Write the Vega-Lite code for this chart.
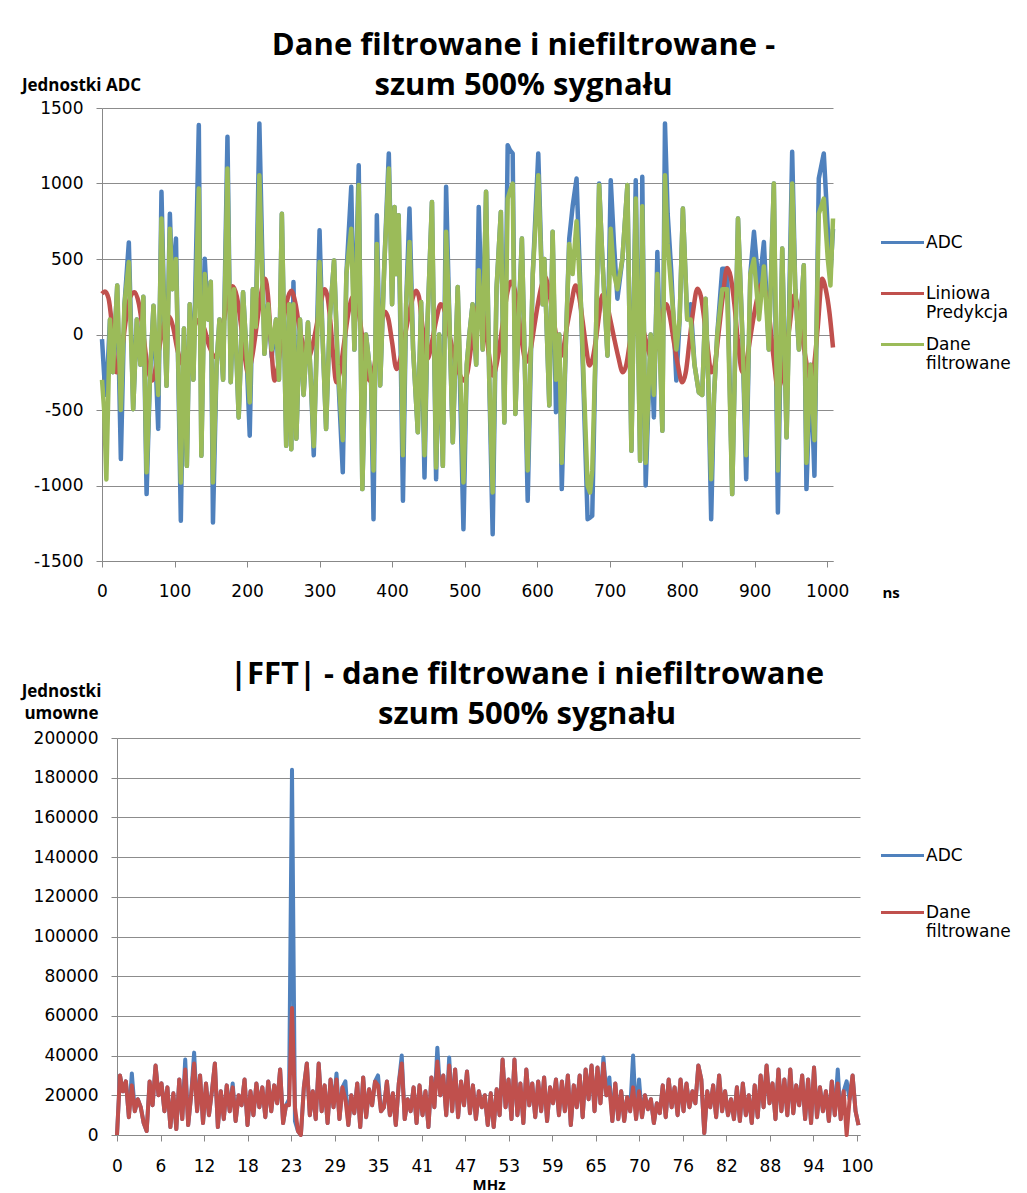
{
  "$schema": "https://vega.github.io/schema/vega-lite/v6.json",
  "padding": {"left": 21, "top": 30, "right": 4, "bottom": 1},
  "background": "#ffffff",
  "spacing": 59,
  "config": {
    "view": {"stroke": null},
    "font": "DejaVu Sans",
    "axis": {"labelFont": "DejaVu Sans", "labelFontSize": 17, "labelColor": "#000000", "domainColor": "#888888", "tickColor": "#888888", "gridColor": "#8c8c8c", "gridWidth": 1, "tickSize": 6, "labelPadding": 16, "titleColor": "#000000", "labelFlush": false},
    "legend": {"labelFont": "DejaVu Sans", "labelFontSize": 17, "labelColor": "#000000", "symbolType": "stroke", "symbolSize": 1850, "symbolStrokeWidth": 3, "padding": 0, "labelOffset": 0, "labelBaseline": "middle"}
  },
  "resolve": {"scale": {"color": "independent", "x": "independent", "y": "independent"}, "legend": {"color": "independent"}},
  "datasets": {
    "ts": [
      {"t":0,"a":-30,"f":-300},{"t":3,"a":-270,"f":-500},{"t":6,"a":-400,"f":-960},{"t":11,"a":100,"f":100},{"t":15,"a":-250,"f":-250},{"t":21,"a":325,"f":325},{"t":26,"a":-825,"f":-500},{"t":31,"a":200,"f":200},{"t":37,"a":610,"f":480},{"t":43,"a":-495,"f":-495},{"t":48,"a":100,"f":100},{"t":53,"a":-200,"f":-200},{"t":57,"a":250,"f":250},{"t":61.5,"a":-1057,"f":-913},{"t":66,"a":-300,"f":-300},{"t":71,"a":190,"f":190},{"t":77.5,"a":-625,"f":-400},{"t":82,"a":945,"f":768},{"t":86,"a":100,"f":100},{"t":89,"a":-340,"f":-340},{"t":93.6,"a":800,"f":700},{"t":97,"a":300,"f":300},{"t":102,"a":635,"f":500},{"t":108.7,"a":-1234,"f":-980},{"t":113,"a":40,"f":40},{"t":117,"a":-870,"f":-870},{"t":121,"a":200,"f":200},{"t":126,"a":-300,"f":-300},{"t":133.5,"a":1387,"f":967},{"t":137,"a":-803,"f":-803},{"t":141.7,"a":502,"f":400},{"t":146,"a":100,"f":100},{"t":150,"a":350,"f":350},{"t":153,"a":-1245,"f":-980},{"t":158,"a":-200,"f":-200},{"t":162,"a":100,"f":100},{"t":167,"a":-300,"f":-300},{"t":173,"a":1310,"f":1100},{"t":177.5,"a":-316,"f":-316},{"t":182,"a":300,"f":300},{"t":188.5,"a":-549,"f":-549},{"t":194.5,"a":280,"f":280},{"t":199,"a":-100,"f":-100},{"t":203.7,"a":-670,"f":-450},{"t":208,"a":300,"f":300},{"t":212,"a":50,"f":50},{"t":217,"a":1398,"f":1055},{"t":224,"a":-128,"f":-128},{"t":229,"a":200,"f":200},{"t":234,"a":-150,"f":-100},{"t":240,"a":100,"f":100},{"t":244,"a":-300,"f":-300},{"t":248,"a":800,"f":800},{"t":254,"a":-737,"f":-737},{"t":258,"a":200,"f":200},{"t":261,"a":-760,"f":-760},{"t":264,"a":347,"f":200},{"t":268,"a":-690,"f":-690},{"t":273,"a":100,"f":100},{"t":278,"a":-400,"f":-400},{"t":284,"a":80,"f":80},{"t":288,"a":-300,"f":-300},{"t":292,"a":-800,"f":-740},{"t":300,"a":690,"f":480},{"t":304,"a":0,"f":0},{"t":309,"a":-626,"f":-626},{"t":314,"a":100,"f":100},{"t":320,"a":490,"f":490},{"t":325,"a":-200,"f":-200},{"t":332,"a":-913,"f":-700},{"t":337,"a":400,"f":400},{"t":343.7,"a":978,"f":700},{"t":348,"a":-100,"f":-100},{"t":354,"a":1121,"f":990},{"t":359,"a":-1024,"f":-1024},{"t":364,"a":0,"f":0},{"t":371,"a":-300,"f":-300},{"t":374.4,"a":-1223,"f":-900},{"t":379,"a":790,"f":600},{"t":383.6,"a":-338,"f":-338},{"t":389.6,"a":500,"f":500},{"t":395.5,"a":1199,"f":1100},{"t":400,"a":200,"f":200},{"t":403.3,"a":845,"f":845},{"t":406,"a":400,"f":400},{"t":409,"a":790,"f":790},{"t":415,"a":-1101,"f":-800},{"t":419.4,"a":200,"f":200},{"t":424,"a":834,"f":613},{"t":429,"a":-100,"f":-100},{"t":435.5,"a":-648,"f":-648},{"t":440,"a":215,"f":215},{"t":444.7,"a":-947,"f":-800},{"t":449,"a":100,"f":100},{"t":455,"a":878,"f":878},{"t":460.7,"a":-958,"f":-880},{"t":465,"a":0,"f":0},{"t":470,"a":-870,"f":-870},{"t":474.5,"a":978,"f":680},{"t":479,"a":100,"f":100},{"t":483.7,"a":-714,"f":-714},{"t":490.5,"a":314,"f":314},{"t":498.4,"a":-1290,"f":-980},{"t":503,"a":-200,"f":-200},{"t":506.6,"a":0,"f":0},{"t":511,"a":200,"f":200},{"t":516,"a":-200,"f":-200},{"t":519.5,"a":845,"f":425},{"t":525,"a":-100,"f":-100},{"t":529.6,"a":945,"f":945},{"t":534,"a":-300,"f":-300},{"t":538.7,"a":-1323,"f":-1046},{"t":544,"a":300,"f":300},{"t":550,"a":812,"f":812},{"t":554.8,"a":-582,"f":-582},{"t":559.4,"a":1254,"f":900},{"t":562.6,"a":1220,"f":950},{"t":566.3,"a":1199,"f":1000},{"t":570,"a":-526,"f":-526},{"t":574.5,"a":100,"f":100},{"t":579,"a":635,"f":635},{"t":583,"a":-200,"f":-200},{"t":587,"a":-1101,"f":-900},{"t":594,"a":400,"f":400},{"t":601.6,"a":1199,"f":1055},{"t":607.6,"a":200,"f":200},{"t":610,"a":500,"f":500},{"t":616.8,"a":-470,"f":-470},{"t":621.4,"a":680,"f":680},{"t":626,"a":-515,"f":-300},{"t":630.5,"a":0,"f":0},{"t":634,"a":-1024,"f":-850},{"t":640,"a":0,"f":0},{"t":644.3,"a":635,"f":600},{"t":649,"a":850,"f":400},{"t":654.4,"a":1033,"f":750},{"t":660.4,"a":200,"f":200},{"t":669.6,"a":-1223,"f":-1000},{"t":673,"a":-1212,"f":-1046},{"t":676,"a":-1200,"f":-900},{"t":681,"a":-30,"f":-30},{"t":685.5,"a":1000,"f":990},{"t":690,"a":500,"f":500},{"t":697,"a":-140,"f":-140},{"t":701.5,"a":1022,"f":700},{"t":706,"a":600,"f":400},{"t":710.7,"a":237,"f":300},{"t":717.6,"a":500,"f":500},{"t":724.5,"a":990,"f":990},{"t":730,"a":-770,"f":-770},{"t":736,"a":1022,"f":900},{"t":742,"a":-836,"f":-836},{"t":745,"a":1044,"f":850},{"t":749.7,"a":-1000,"f":-850},{"t":756.6,"a":0,"f":0},{"t":761,"a":-549,"f":-400},{"t":765.8,"a":546,"f":400},{"t":772.7,"a":-637,"f":-637},{"t":776.3,"a":1398,"f":1055},{"t":780,"a":800,"f":600},{"t":785,"a":414,"f":300},{"t":792,"a":-305,"f":-100},{"t":796.5,"a":100,"f":100},{"t":801,"a":834,"f":834},{"t":807,"a":100,"f":100},{"t":811.7,"a":200,"f":100},{"t":817,"a":-200,"f":-200},{"t":823,"a":-383,"f":-383},{"t":827.7,"a":-400,"f":-400},{"t":832.3,"a":237,"f":237},{"t":836,"a":-300,"f":-300},{"t":840,"a":-1223,"f":-958},{"t":844,"a":-400,"f":-400},{"t":848.4,"a":0,"f":0},{"t":855.3,"a":436,"f":300},{"t":862,"a":436,"f":300},{"t":869,"a":-1057,"f":-1057},{"t":877,"a":768,"f":768},{"t":883,"a":0,"f":0},{"t":888.3,"a":-958,"f":-800},{"t":894,"a":400,"f":400},{"t":899,"a":680,"f":500},{"t":906,"a":300,"f":100},{"t":912.7,"a":613,"f":450},{"t":919.5,"a":-100,"f":-100},{"t":926.4,"a":1000,"f":1000},{"t":932,"a":-1179,"f":-900},{"t":938,"a":569,"f":569},{"t":944,"a":-681,"f":-681},{"t":951.7,"a":1210,"f":1000},{"t":956,"a":300,"f":300},{"t":961,"a":-100,"f":-100},{"t":967.7,"a":458,"f":458},{"t":971.4,"a":-1024,"f":-850},{"t":977,"a":-200,"f":-200},{"t":982.4,"a":-936,"f":-700},{"t":988.4,"a":1033,"f":800},{"t":995.3,"a":1199,"f":900},{"t":1000.8,"a":700,"f":500},{"t":1004.5,"a":400,"f":325},{"t":1008,"a":700,"f":768}
    ],
    "pred": [
      {"t":0,"p":270},{"t":4,"p":285},{"t":9,"p":240},{"t":14,"p":50},{"t":20,"p":-250},{"t":26,"p":-150},{"t":33,"p":100},{"t":39,"p":250},{"t":45,"p":280},{"t":51,"p":200},{"t":57,"p":0},{"t":63,"p":-220},{"t":69,"p":-305},{"t":75,"p":-200},{"t":81,"p":-30},{"t":86,"p":80},{"t":92,"p":120},{"t":98,"p":50},{"t":104,"p":-100},{"t":112,"p":-200},{"t":118,"p":-120},{"t":124,"p":0},{"t":130,"p":80},{"t":135,"p":100},{"t":141,"p":40},{"t":148,"p":-80},{"t":157,"p":-150},{"t":163,"p":-50},{"t":169,"p":120},{"t":175,"p":270},{"t":180,"p":320},{"t":186,"p":250},{"t":192,"p":50},{"t":197,"p":-150},{"t":201,"p":-250},{"t":207,"p":-150},{"t":213,"p":50},{"t":219,"p":260},{"t":225,"p":370},{"t":229,"p":250},{"t":233,"p":-50},{"t":238,"p":-305},{"t":243,"p":-200},{"t":249,"p":50},{"t":255,"p":220},{"t":261,"p":290},{"t":267,"p":200},{"t":272,"p":50},{"t":278,"p":-80},{"t":284,"p":-160},{"t":290,"p":-80},{"t":296,"p":60},{"t":302,"p":220},{"t":307,"p":300},{"t":311,"p":250},{"t":315,"p":80},{"t":319,"p":-150},{"t":323,"p":-316},{"t":328,"p":-250},{"t":334,"p":-50},{"t":340,"p":150},{"t":346,"p":250},{"t":352,"p":200},{"t":357,"p":50},{"t":363,"p":-180},{"t":369,"p":-305},{"t":374,"p":-250},{"t":379,"p":-100},{"t":384,"p":50},{"t":390,"p":150},{"t":395,"p":100},{"t":400,"p":-50},{"t":406,"p":-228},{"t":412,"p":-150},{"t":418,"p":0},{"t":424,"p":150},{"t":429,"p":250},{"t":433,"p":290},{"t":437,"p":250},{"t":442,"p":50},{"t":449,"p":-160},{"t":455,"p":-50},{"t":461,"p":100},{"t":467,"p":200},{"t":473,"p":150},{"t":479,"p":0},{"t":486,"p":-150},{"t":493,"p":-260},{"t":499,"p":-305},{"t":504,"p":-250},{"t":509,"p":-80},{"t":514,"p":100},{"t":520,"p":200},{"t":525,"p":150},{"t":530,"p":0},{"t":535,"p":-180},{"t":539,"p":-272},{"t":544,"p":-200},{"t":549,"p":-50},{"t":554,"p":120},{"t":559,"p":280},{"t":564,"p":350},{"t":569,"p":300},{"t":574,"p":150},{"t":579,"p":-50},{"t":585,"p":-180},{"t":591,"p":-100},{"t":596,"p":50},{"t":601,"p":200},{"t":606,"p":320},{"t":611,"p":380},{"t":616,"p":300},{"t":621,"p":150},{"t":626,"p":0},{"t":631,"p":-150},{"t":636,"p":-100},{"t":641,"p":50},{"t":647,"p":200},{"t":653,"p":325},{"t":658,"p":250},{"t":663,"p":80},{"t":668,"p":-100},{"t":672,"p":-205},{"t":677,"p":-150},{"t":682,"p":0},{"t":686,"p":150},{"t":690,"p":260},{"t":695,"p":230},{"t":700,"p":120},{"t":706,"p":-20},{"t":712,"p":-150},{"t":718,"p":-250},{"t":723,"p":-200},{"t":728,"p":-50},{"t":733,"p":80},{"t":738,"p":150},{"t":743,"p":100},{"t":748,"p":0},{"t":753,"p":-100},{"t":758,"p":-161},{"t":763,"p":-100},{"t":768,"p":30},{"t":773,"p":150},{"t":778,"p":200},{"t":783,"p":120},{"t":788,"p":-30},{"t":794,"p":-200},{"t":800,"p":-316},{"t":805,"p":-250},{"t":810,"p":-50},{"t":815,"p":150},{"t":821,"p":303},{"t":826,"p":250},{"t":831,"p":80},{"t":836,"p":-120},{"t":840,"p":-250},{"t":845,"p":-200},{"t":850,"p":0},{"t":856,"p":250},{"t":862,"p":440},{"t":867,"p":380},{"t":872,"p":200},{"t":877,"p":-50},{"t":883,"p":-250},{"t":888,"p":-200},{"t":893,"p":-50},{"t":898,"p":100},{"t":904,"p":250},{"t":910,"p":336},{"t":915,"p":280},{"t":920,"p":120},{"t":926,"p":-150},{"t":932,"p":-360},{"t":937,"p":-300},{"t":942,"p":-150},{"t":948,"p":50},{"t":954,"p":259},{"t":959,"p":200},{"t":964,"p":50},{"t":970,"p":-150},{"t":977,"p":-294},{"t":982,"p":-200},{"t":987,"p":50},{"t":993,"p":370},{"t":998,"p":300},{"t":1003,"p":150},{"t":1008,"p":-86}
    ],
    "fft": [
      {"f":0,"a":0,"d":0},{"f":0.4,"a":30000,"d":30000},{"f":0.8,"a":22000,"d":22000},{"f":1.2,"a":27000,"d":27000},{"f":1.6,"a":9000,"d":9000},{"f":2,"a":31000,"d":25000},{"f":2.4,"a":12000,"d":12000},{"f":2.8,"a":18000,"d":18000},{"f":3.2,"a":14000,"d":14000},{"f":3.6,"a":6000,"d":6000},
      {"f":4,"a":2000,"d":2000},{"f":4.4,"a":27000,"d":27000},{"f":4.8,"a":15000,"d":15000},{"f":5.2,"a":35000,"d":35000},{"f":5.6,"a":20000,"d":20000},{"f":6,"a":26000,"d":26000},{"f":6.4,"a":12000,"d":12000},{"f":6.8,"a":24000,"d":24000},{"f":7.2,"a":4000,"d":4000},{"f":7.6,"a":21000,"d":21000},
      {"f":8,"a":3000,"d":3000},{"f":8.4,"a":28000,"d":28000},{"f":8.8,"a":8000,"d":8000},{"f":9.2,"a":38000,"d":33000},{"f":9.6,"a":5000,"d":5000},{"f":10,"a":20000,"d":20000},{"f":10.4,"a":41500,"d":36000},{"f":10.8,"a":12000,"d":12000},{"f":11.2,"a":30000,"d":30000},{"f":11.6,"a":6000,"d":6000},
      {"f":12,"a":26000,"d":26000},{"f":12.4,"a":10000,"d":10000},{"f":12.8,"a":22000,"d":22000},{"f":13.2,"a":36000,"d":36000},{"f":13.6,"a":4000,"d":4000},{"f":14,"a":22000,"d":22000},{"f":14.4,"a":8000,"d":8000},{"f":14.8,"a":25000,"d":25000},{"f":15.2,"a":12000,"d":12000},{"f":15.6,"a":26000,"d":24000},
      {"f":16,"a":7000,"d":7000},{"f":16.4,"a":20000,"d":20000},{"f":16.8,"a":15000,"d":15000},{"f":17.2,"a":28000,"d":28000},{"f":17.6,"a":5000,"d":5000},{"f":18,"a":22000,"d":22000},{"f":18.4,"a":10000,"d":10000},{"f":18.8,"a":26000,"d":26000},{"f":19.2,"a":14000,"d":14000},{"f":19.6,"a":24000,"d":24000},
      {"f":20,"a":9000,"d":9000},{"f":20.4,"a":27000,"d":27000},{"f":20.8,"a":12000,"d":12000},{"f":21.2,"a":25000,"d":25000},{"f":21.6,"a":16000,"d":16000},{"f":22,"a":33000,"d":33000},{"f":22.4,"a":6000,"d":6000},{"f":22.8,"a":15000,"d":15000},{"f":23.2,"a":18000,"d":15000},{"f":23.6,"a":184000,"d":64000},
      {"f":24,"a":7000,"d":14000},{"f":24.4,"a":2000,"d":2000},{"f":24.8,"a":0,"d":0},{"f":25.2,"a":24000,"d":24000},{"f":25.6,"a":36000,"d":36000},{"f":26,"a":10000,"d":10000},{"f":26.4,"a":22000,"d":22000},{"f":26.8,"a":8000,"d":8000},{"f":27.2,"a":36000,"d":36000},{"f":27.6,"a":12000,"d":12000},
      {"f":28,"a":25000,"d":25000},{"f":28.4,"a":6000,"d":6000},{"f":28.8,"a":28000,"d":28000},{"f":29.2,"a":14000,"d":14000},{"f":29.6,"a":31000,"d":28000},{"f":30,"a":8000,"d":8000},{"f":30.4,"a":24000,"d":24000},{"f":30.8,"a":27000,"d":18000},{"f":31.2,"a":5000,"d":5000},{"f":31.6,"a":20000,"d":20000},
      {"f":32,"a":11000,"d":11000},{"f":32.4,"a":26000,"d":26000},{"f":32.8,"a":4000,"d":4000},{"f":33.2,"a":29000,"d":29000},{"f":33.6,"a":9000,"d":9000},{"f":34,"a":23000,"d":23000},{"f":34.4,"a":15000,"d":15000},{"f":34.8,"a":27000,"d":27000},{"f":35.2,"a":30000,"d":25000},{"f":35.6,"a":12000,"d":12000},
      {"f":36,"a":14000,"d":14000},{"f":36.4,"a":27000,"d":27000},{"f":36.8,"a":10000,"d":10000},{"f":37.2,"a":21000,"d":21000},{"f":37.6,"a":5000,"d":5000},{"f":38,"a":26000,"d":26000},{"f":38.4,"a":40000,"d":36000},{"f":38.8,"a":8000,"d":8000},{"f":39.2,"a":18000,"d":18000},{"f":39.6,"a":12000,"d":12000},
      {"f":40,"a":24000,"d":24000},{"f":40.4,"a":6000,"d":6000},{"f":40.8,"a":25000,"d":25000},{"f":41.2,"a":10000,"d":10000},{"f":41.6,"a":22000,"d":22000},{"f":42,"a":4000,"d":4000},{"f":42.4,"a":29000,"d":29000},{"f":42.8,"a":14000,"d":14000},{"f":43.2,"a":44000,"d":37000},{"f":43.6,"a":20000,"d":20000},
      {"f":44,"a":30000,"d":30000},{"f":44.4,"a":10000,"d":10000},{"f":44.8,"a":39000,"d":35000},{"f":45.2,"a":12000,"d":12000},{"f":45.6,"a":33000,"d":33000},{"f":46,"a":9000,"d":9000},{"f":46.4,"a":27000,"d":27000},{"f":46.8,"a":15000,"d":15000},{"f":47.2,"a":32000,"d":32000},{"f":47.6,"a":11000,"d":11000},
      {"f":48,"a":25000,"d":25000},{"f":48.4,"a":8000,"d":8000},{"f":48.8,"a":22000,"d":22000},{"f":49.2,"a":14000,"d":14000},{"f":49.6,"a":20000,"d":20000},{"f":50,"a":5000,"d":5000},{"f":50.4,"a":21000,"d":21000},{"f":50.8,"a":4000,"d":4000},{"f":51.2,"a":23000,"d":23000},{"f":51.6,"a":10000,"d":10000},
      {"f":52,"a":38000,"d":38000},{"f":52.4,"a":14000,"d":14000},{"f":52.8,"a":28000,"d":28000},{"f":53.2,"a":8000,"d":8000},{"f":53.6,"a":38000,"d":38000},{"f":54,"a":10000,"d":10000},{"f":54.4,"a":26000,"d":26000},{"f":54.8,"a":6000,"d":6000},{"f":55.2,"a":33000,"d":33000},{"f":55.6,"a":15000,"d":15000},
      {"f":56,"a":26000,"d":26000},{"f":56.4,"a":9000,"d":9000},{"f":56.8,"a":27000,"d":27000},{"f":57.2,"a":12000,"d":12000},{"f":57.6,"a":29000,"d":29000},{"f":58,"a":7000,"d":7000},{"f":58.4,"a":24000,"d":24000},{"f":58.8,"a":16000,"d":16000},{"f":59.2,"a":28000,"d":28000},{"f":59.6,"a":10000,"d":10000},
      {"f":60,"a":27000,"d":27000},{"f":60.4,"a":12000,"d":12000},{"f":60.8,"a":30000,"d":30000},{"f":61.2,"a":5000,"d":5000},{"f":61.6,"a":25000,"d":25000},{"f":62,"a":14000,"d":14000},{"f":62.4,"a":30000,"d":30000},{"f":62.8,"a":9000,"d":9000},{"f":63.2,"a":33000,"d":33000},{"f":63.6,"a":18000,"d":18000},
      {"f":64,"a":35000,"d":35000},{"f":64.4,"a":12000,"d":12000},{"f":64.8,"a":34000,"d":34000},{"f":65.2,"a":16000,"d":16000},{"f":65.6,"a":39000,"d":36000},{"f":66,"a":20000,"d":20000},{"f":66.4,"a":29000,"d":24000},{"f":66.8,"a":7000,"d":7000},{"f":67.2,"a":26000,"d":26000},{"f":67.6,"a":8000,"d":8000},
      {"f":68,"a":22000,"d":22000},{"f":68.4,"a":7000,"d":7000},{"f":68.8,"a":19000,"d":19000},{"f":69.2,"a":12000,"d":12000},{"f":69.6,"a":40000,"d":24000},{"f":70,"a":8000,"d":8000},{"f":70.4,"a":28000,"d":22000},{"f":70.8,"a":9000,"d":9000},{"f":71.2,"a":20000,"d":20000},{"f":71.6,"a":13000,"d":13000},
      {"f":72,"a":18000,"d":18000},{"f":72.4,"a":6000,"d":6000},{"f":72.8,"a":16000,"d":16000},{"f":73.2,"a":11000,"d":11000},{"f":73.6,"a":25000,"d":25000},{"f":74,"a":9000,"d":9000},{"f":74.4,"a":28000,"d":28000},{"f":74.8,"a":14000,"d":14000},{"f":75.2,"a":24000,"d":24000},{"f":75.6,"a":10000,"d":10000},
      {"f":76,"a":28000,"d":28000},{"f":76.4,"a":12000,"d":12000},{"f":76.8,"a":26000,"d":26000},{"f":77.2,"a":14000,"d":14000},{"f":77.6,"a":22000,"d":22000},{"f":78,"a":16000,"d":16000},{"f":78.4,"a":35000,"d":35000},{"f":78.8,"a":28000,"d":28000},{"f":79.2,"a":1000,"d":1000},{"f":79.6,"a":22000,"d":22000},
      {"f":80,"a":14000,"d":14000},{"f":80.4,"a":25000,"d":25000},{"f":80.8,"a":9000,"d":9000},{"f":81.2,"a":30000,"d":30000},{"f":81.6,"a":12000,"d":12000},{"f":82,"a":22000,"d":22000},{"f":82.4,"a":10000,"d":10000},{"f":82.8,"a":18000,"d":18000},{"f":83.2,"a":8000,"d":8000},{"f":83.6,"a":24000,"d":24000},
      {"f":84,"a":7000,"d":7000},{"f":84.4,"a":26000,"d":26000},{"f":84.8,"a":10000,"d":10000},{"f":85.2,"a":20000,"d":20000},{"f":85.6,"a":6000,"d":6000},{"f":86,"a":25000,"d":25000},{"f":86.4,"a":9000,"d":9000},{"f":86.8,"a":30000,"d":30000},{"f":87.2,"a":14000,"d":14000},{"f":87.6,"a":35000,"d":35000},
      {"f":88,"a":16000,"d":16000},{"f":88.4,"a":26000,"d":26000},{"f":88.8,"a":8000,"d":8000},{"f":89.2,"a":33000,"d":33000},{"f":89.6,"a":12000,"d":12000},{"f":90,"a":28000,"d":28000},{"f":90.4,"a":10000,"d":10000},{"f":90.8,"a":33000,"d":33000},{"f":91.2,"a":11000,"d":11000},{"f":91.6,"a":25000,"d":25000},
      {"f":92,"a":15000,"d":15000},{"f":92.4,"a":30000,"d":30000},{"f":92.8,"a":8000,"d":8000},{"f":93.2,"a":28000,"d":28000},{"f":93.6,"a":6000,"d":6000},{"f":94,"a":34000,"d":34000},{"f":94.4,"a":9000,"d":9000},{"f":94.8,"a":24000,"d":24000},{"f":95.2,"a":12000,"d":12000},{"f":95.6,"a":22000,"d":22000},
      {"f":96,"a":7000,"d":7000},{"f":96.4,"a":27000,"d":27000},{"f":96.8,"a":10000,"d":10000},{"f":97.2,"a":33000,"d":26000},{"f":97.6,"a":8000,"d":8000},{"f":98,"a":22000,"d":22000},{"f":98.4,"a":27000,"d":0},{"f":98.8,"a":18000,"d":18000},{"f":99.2,"a":30000,"d":30000},{"f":99.6,"a":12000,"d":12000},
      {"f":100,"a":5000,"d":5000}
    ]
  },
  "vconcat": [
    {
      "width": 731,
      "height": 453,
      "title": {"text": ["Dane filtrowane i niefiltrowane -", "szum 500% sygnału"], "font": "Open Sans", "fontSize": 31, "fontWeight": "bold", "lineHeight": 40, "dx": 56, "offset": -26, "color": "#000000", "anchor": "middle"},
      "encoding": {
        "x": {"field": "t", "type": "quantitative", "scale": {"domain": [0, 1008], "nice": false, "zero": false},
          "axis": {"values": [0,100,200,300,400,500,600,700,800,900,1000], "format": "d", "grid": false, "title": "ns", "titleFont": "Open Sans", "titleFontSize": 15, "titleFontWeight": "bold", "titleX": 780, "titleY": 31, "titleAlign": "left", "titleBaseline": "middle", "labelPadding": 16}}
      },
      "layer": [
        {
          "data": {"name": "ts"},
          "mark": {"type": "line", "strokeWidth": 4.5, "strokeJoin": "round"},
          "encoding": {
            "y": {"field": "a", "type": "quantitative", "scale": {"domain": [-1500, 1500], "nice": false},
              "axis": {"values": [-1500,-1000,-500,0,500,1000,1500], "labelExpr": "'' + datum.value", "labelPadding": 13, "grid": true, "title": "Jednostki ADC", "titleAngle": 0, "titleAlign": "center", "titleBaseline": "middle", "titleX": -21, "titleY": -23, "titleFont": "Open Sans", "titleFontSize": 17, "titleFontWeight": "bold"}},
            "color": {"datum": "ADC", "scale": {"domain": ["ADC", "Liniowa Predykcja", "Dane filtrowane"], "range": ["#4F81BD", "#C0504D", "#9BBB59"]},
              "legend": {"orient": "none", "legendX": 777, "legendY": 111, "title": null, "gridAlign": "all", "rowPadding": 0, "labelExpr": "datum.label == 'Liniowa Predykcja' ? ['Liniowa', 'Predykcja'] : datum.label == 'Dane filtrowane' ? ['Dane', 'filtrowane'] : datum.label"}}
          }
        },
        {
          "data": {"name": "pred"},
          "mark": {"type": "line", "strokeWidth": 4.5, "strokeJoin": "round", "interpolate": "monotone"},
          "encoding": {
            "y": {"field": "p", "type": "quantitative", "scale": {"domain": [-1500, 1500], "nice": false},
              "axis": {"values": [-1500,-1000,-500,0,500,1000,1500], "labelExpr": "'' + datum.value", "labelPadding": 13, "grid": true, "title": "Jednostki ADC", "titleAngle": 0, "titleAlign": "center", "titleBaseline": "middle", "titleX": -21, "titleY": -23, "titleFont": "Open Sans", "titleFontSize": 17, "titleFontWeight": "bold"}},
            "color": {"datum": "Liniowa Predykcja"}
          }
        },
        {
          "data": {"name": "ts"},
          "mark": {"type": "line", "strokeWidth": 4.5, "strokeJoin": "round"},
          "encoding": {
            "y": {"field": "f", "type": "quantitative", "scale": {"domain": [-1500, 1500], "nice": false},
              "axis": {"values": [-1500,-1000,-500,0,500,1000,1500], "labelExpr": "'' + datum.value", "labelPadding": 13, "grid": true, "title": "Jednostki ADC", "titleAngle": 0, "titleAlign": "center", "titleBaseline": "middle", "titleX": -21, "titleY": -23, "titleFont": "Open Sans", "titleFontSize": 17, "titleFontWeight": "bold"}},
            "color": {"datum": "Dane filtrowane"}
          }
        }
      ]
    },
    {
      "width": 758,
      "height": 397,
      "data": {"name": "fft"},
      "title": {"text": ["|FFT| - dane filtrowane i niefiltrowane", "szum 500% sygnału"], "font": "Open Sans", "fontSize": 31, "fontWeight": "bold", "lineHeight": 40, "dx": 46, "offset": -49, "color": "#000000", "anchor": "middle"},
      "encoding": {
        "x": {"field": "f", "type": "quantitative", "scale": {"domain": [0, 100.2], "range": [15, 758], "nice": false, "zero": false},
          "axis": {"values": [0, 5.87, 11.74, 17.61, 23.48, 29.35, 35.22, 41.09, 46.96, 52.83, 58.7, 64.57, 70.44, 76.31, 82.18, 88.05, 93.92, 99.79], "format": ".0f", "grid": false, "title": "MHz", "titleFont": "Open Sans", "titleFontSize": 15, "titleFontWeight": "bold", "titlePadding": 3, "labelPadding": 17}}
      },
      "layer": [
        {
          "mark": {"type": "line", "strokeWidth": 4, "strokeJoin": "round"},
          "encoding": {
            "y": {"field": "a", "type": "quantitative", "scale": {"domain": [0, 200000], "nice": false},
              "axis": {"values": [0,20000,40000,60000,80000,100000,120000,140000,160000,180000,200000], "format": "d", "offset": -15, "labelPadding": 13, "grid": true, "title": ["Jednostki", "umowne"], "titleAngle": 0, "titleAlign": "center", "titleBaseline": "top", "titleX": -56, "titleY": -55, "titleLineHeight": 22, "titleFont": "Open Sans", "titleFontSize": 17, "titleFontWeight": "bold"}},
            "color": {"datum": "ADC", "scale": {"domain": ["ADC", "Dane filtrowane"], "range": ["#4F81BD", "#C0504D"]},
              "legend": {"orient": "none", "legendX": 777, "legendY": 94, "title": null, "gridAlign": "all", "rowPadding": 6, "labelExpr": "datum.label == 'Dane filtrowane' ? ['Dane', 'filtrowane'] : datum.label"}}
          }
        },
        {
          "mark": {"type": "line", "strokeWidth": 4, "strokeJoin": "round"},
          "encoding": {
            "y": {"field": "d", "type": "quantitative", "scale": {"domain": [0, 200000], "nice": false},
              "axis": {"values": [0,20000,40000,60000,80000,100000,120000,140000,160000,180000,200000], "format": "d", "offset": -15, "labelPadding": 13, "grid": true, "title": ["Jednostki", "umowne"], "titleAngle": 0, "titleAlign": "center", "titleBaseline": "top", "titleX": -56, "titleY": -55, "titleLineHeight": 22, "titleFont": "Open Sans", "titleFontSize": 17, "titleFontWeight": "bold"}},
            "color": {"datum": "Dane filtrowane"}
          }
        }
      ]
    }
  ]
}
